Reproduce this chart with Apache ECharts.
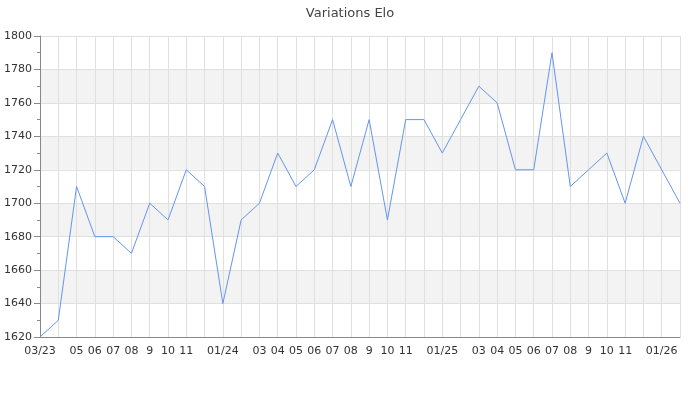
<!DOCTYPE html>
<html>
<head>
<meta charset="utf-8">
<script src="https://cdn.jsdelivr.net/npm/echarts@6/dist/echarts.min.js"></script>
<style>html,body{margin:0;padding:0;background:#fff}#c{width:700px;height:400px}</style>
</head>
<body>
<div id="c"></div>
<script>
const months = ["2023-03","2023-04","2023-05","2023-06","2023-07","2023-08","2023-09","2023-10","2023-11","2023-12",
"2024-01","2024-02","2024-03","2024-04","2024-05","2024-06","2024-07","2024-08","2024-09","2024-10","2024-11","2024-12",
"2025-01","2025-02","2025-03","2025-04","2025-05","2025-06","2025-07","2025-08","2025-09","2025-10","2025-11","2025-12",
"2026-01","2026-02"];
const tickLabels = ["03/23","","05","06","07","08","9","10","11","",
"01/24","","03","04","05","06","07","08","9","10","11","",
"01/25","","03","04","05","06","07","08","9","10","11","",
"01/26",""];
const elo = [1620,1630,1710,1680,1680,1670,1700,1690,1720,1710,
1640,1690,1700,1730,1710,1720,1750,1710,1750,1690,1750,1750,
1730,1750,1770,1760,1720,1720,1790,1710,1720,1730,1700,1740,
1720,1700];
const yTicks = {min:1620, max:1800, interval:20};

const chart = echarts.init(document.getElementById('c'), null, {renderer:'canvas'});
chart.setOption({
  animation:false,
  title:{text:'Variations Elo', left:'center', top:2,
    textStyle:{fontFamily:'DejaVu Sans', fontSize:13, fontWeight:'normal', color:'#444'}},
  grid:{left:40, right:20, top:36, bottom:63, containLabel:false},
  xAxis:{
    type:'category', data:months, boundaryGap:false,
    axisLine:{lineStyle:{color:'#888', width:1}},
    axisTick:{show:false},
    axisLabel:{interval:0, fontFamily:'DejaVu Sans', fontSize:11, color:'#333', margin:9,
      formatter:(v,i)=>tickLabels[i]},
    splitLine:{show:true, interval:0, lineStyle:{color:'#e0e0e0', width:1}}
  },
  yAxis:{
    type:'value', min:yTicks.min, max:yTicks.max, interval:yTicks.interval,
    axisLine:{show:true, lineStyle:{color:'#888', width:1}},
    axisTick:{show:true, length:6, lineStyle:{color:'#888'}},
    minorTick:{show:true, splitNumber:2, length:3, lineStyle:{color:'#888'}},
    axisLabel:{fontFamily:'DejaVu Sans', fontSize:11, color:'#333', margin:8,
      formatter:v=>String(v)},
    splitLine:{show:true, lineStyle:{color:'#e0e0e0', width:1}},
    splitArea:{show:true, areaStyle:{color:['#ffffff','#f3f3f3']}}
  },
  series:[{
    type:'line', data:elo, symbol:'none',
    lineStyle:{color:'#6495ed', width:1},
    itemStyle:{color:'#6495ed'}
  }]
});
</script>
</body>
</html>
